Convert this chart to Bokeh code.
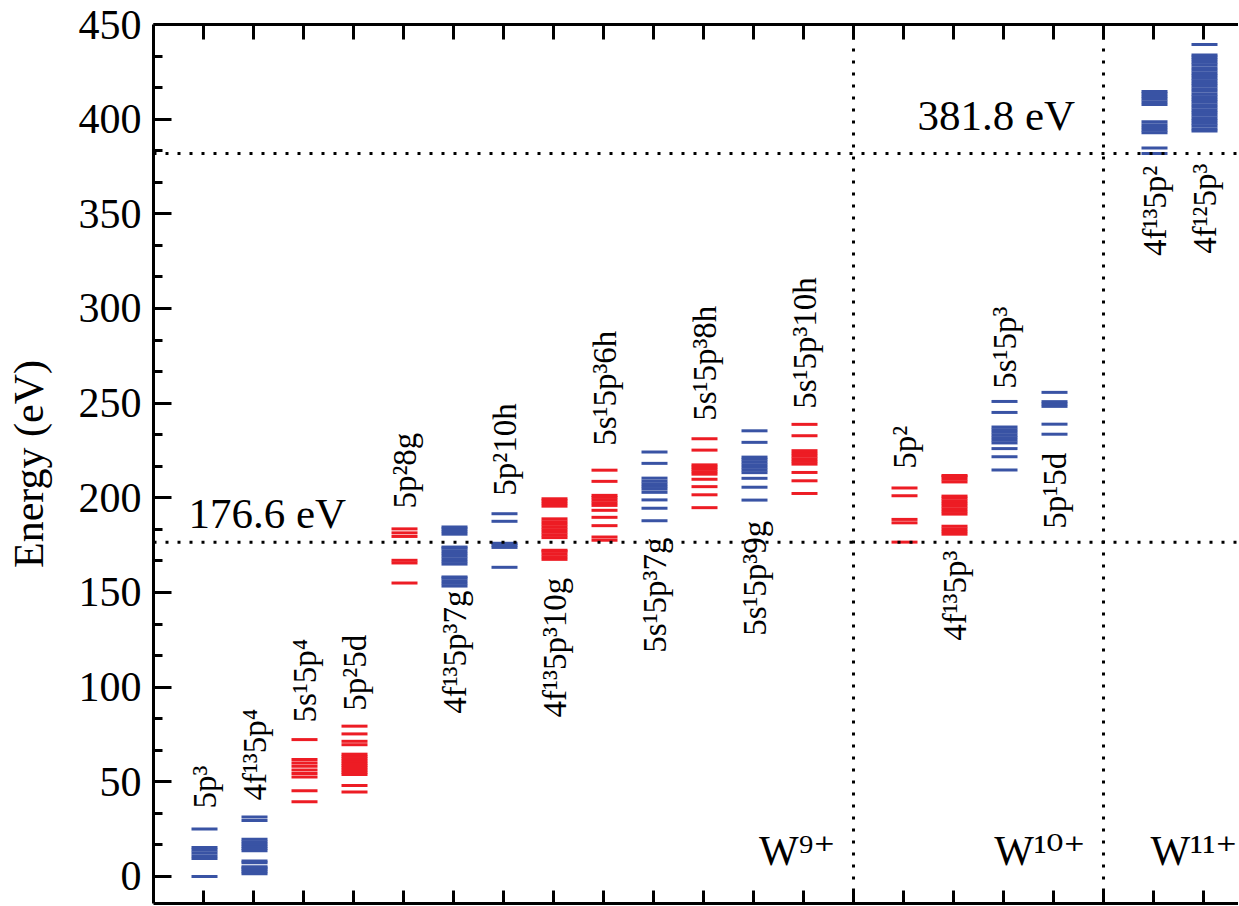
import math
from bokeh.plotting import figure
from bokeh.models import ColumnDataSource, Span, LinearAxis, FixedTicker, Range1d
from bokeh.core.properties import value
from bokeh.embed import file_html
from bokeh.resources import INLINE

# ---------------- data ----------------
config_labels = ["5p³", "4f¹³5p⁴", "5s¹5p⁴", "5p²5d", "5p²8g", "4f¹³5p³7g", "5p²10h",
                 "4f¹³5p³10g", "5s¹5p³6h", "5s¹5p³7g", "5s¹5p³8h", "5s¹5p³9g", "5s¹5p³10h",
                 "5p²", "4f¹³5p³", "5s¹5p³", "5p¹5d", "4f¹³5p²", "4f¹²5p³"]
config_slot = [1, 2, 3, 4, 5, 6, 7, 8, 9, 10, 11, 12, 13, 15, 16, 17, 18, 20, 21]
config_parity = ["odd", "odd", "even", "even", "even", "odd", "odd", "even", "even", "odd",
                 "even", "odd", "even", "even", "even", "odd", "odd", "odd", "odd"]
label_side = ["above", "above", "above", "above", "above", "below", "above", "below", "above",
              "below", "above", "below", "above", "above", "below", "above", "below", "below", "below"]
label_energy = [35.9, 40.1, 81.3, 87.6, 194.3, 151.0, 201.1, 157.8, 227.5, 179.0, 240.7,
                187.9, 247.0, 215.4, 172.1, 257.6, 223.8, 375.4, 376.5]

lv_5p3 = [0.0, 9.5, 11.0, 12.5, 14.0, 15.3, 25.1]
lv_4f13_5p4 = [1.5, 2.5, 3.5, 4.5, 5.2, 7.2, 8.2, 13.6, 14.8, 16.0, 17.2, 18.4, 19.7, 29.6, 31.4]
lv_5s1_5p4 = [39.5, 45.3, 52.6, 54.4, 56.3, 58.2, 60.0, 61.8, 72.3]
lv_5p2_5d = [44.6, 48.0, 53.8, 55.0, 56.2, 57.4, 58.6, 59.8, 61.0, 62.2, 63.4, 64.6, 69.6, 71.4, 75.3, 79.4]
lv_5p2_8g = [155.0, 165.6, 167.0, 179.6, 181.5, 183.6]
lv_4f13_5p3_7g = [153.4, 154.8, 156.2, 157.6, 158.2, 165.0, 166.4, 167.8, 169.2, 170.6, 172.0,
                  173.4, 174.0, 180.8, 182.2, 183.6, 184.6]
lv_5p2_10h = [163.3, 173.8, 175.0, 176.0, 187.6, 191.6]
lv_4f13_5p3_10g = [167.5, 168.9, 170.3, 171.7, 172.3, 179.0, 180.4, 181.8, 183.2, 184.6, 186.0,
                   187.4, 188.9, 195.6, 197.0, 198.4, 199.5]
lv_5s1_5p3_6h = [177.6, 179.3, 185.3, 189.7, 193.4, 196.0, 197.4, 198.8, 200.2, 201.3, 208.7, 214.6]
lv_5s1_5p3_7g = [187.9, 194.5, 198.9, 202.9, 204.6, 206.0, 207.4, 208.8, 210.4, 218.2, 224.2]
lv_5s1_5p3_8h = [194.8, 201.6, 205.9, 209.8, 212.5, 213.8, 215.1, 216.3, 217.4, 225.2, 231.2]
lv_5s1_5p3_9g = [198.8, 205.6, 210.3, 213.3, 214.7, 216.1, 217.5, 218.9, 220.3, 221.5, 229.3, 235.4]
lv_5s1_5p3_10h = [202.3, 209.0, 213.4, 217.8, 219.2, 220.6, 222.0, 223.4, 224.9, 232.8, 238.8]
lv_5p2_w10 = [176.6, 186.8, 188.6, 201.1, 205.2]
lv_4f13_5p3_w10 = [180.8, 182.2, 183.6, 185.0, 191.4, 192.8, 194.2, 195.6, 197.0, 198.4, 199.8,
                   200.9, 208.4, 209.8, 211.2, 211.8]
lv_5s1_5p3_w10 = [214.7, 221.7, 226.0, 229.0, 230.4, 231.8, 233.2, 234.6, 236.0, 237.4, 245.1, 250.9]
lv_5p1_5d = [233.6, 238.9, 248.3, 249.6, 250.8, 255.7]
lv_4f13_5p2 = [381.8, 384.8, 392.8, 394.2, 395.6, 397.0, 398.6, 407.8, 409.2, 410.6, 412.0, 413.4, 414.6]
lv_4f12_5p3 = [393.7, 395.0, 396.5, 397.8, 399.3, 400.6, 402.1, 403.5, 404.8, 406.3, 407.6, 409.1,
               410.4, 411.9, 413.2, 414.7, 416.0, 417.5, 418.8, 420.3, 421.6, 423.1, 424.4, 425.9,
               427.2, 428.7, 430.0, 431.5, 432.8, 433.9, 439.5]

all_levels = [lv_5p3, lv_4f13_5p4, lv_5s1_5p4, lv_5p2_5d, lv_5p2_8g, lv_4f13_5p3_7g, lv_5p2_10h,
              lv_4f13_5p3_10g, lv_5s1_5p3_6h, lv_5s1_5p3_7g, lv_5s1_5p3_8h, lv_5s1_5p3_9g,
              lv_5s1_5p3_10h, lv_5p2_w10, lv_4f13_5p3_w10, lv_5s1_5p3_w10, lv_5p1_5d,
              lv_4f13_5p2, lv_4f12_5p3]

ionization = [176.6, 381.8]
ionization_text = ["176.6 eV", "381.8 eV"]
ionization_text_x = [0.7, 15.28]
ionization_text_y = [191.7, 401.8]
ion_stage_boundaries = [14, 19]
ion_stage_labels = ["W⁹⁺", "W¹⁰⁺", "W¹¹⁺"]
ion_stage_label_x = [13.64, 18.64, 21.68]
ion_stage_label_y = [13.4, 13.4, 13.4]

y_major = [0, 50, 100, 150, 200, 250, 300, 350, 400, 450]

# ---------------- styles ----------------
BLUE = "#3953A4"
RED = "#ED1C24"
SERIF = "Liberation Serif, DejaVu Serif"
HALF = 0.26

x0, x1, ys, cols = [], [], [], []
for slot, par, lv in zip(config_slot, config_parity, all_levels):
    for e in lv:
        x0.append(slot - HALF + 0.02)
        x1.append(slot + HALF + 0.02)
        ys.append(e)
        cols.append(BLUE if par == "odd" else RED)
seg_src = ColumnDataSource(dict(x0=x0, x1=x1, y=ys, c=cols))

p = figure(frame_width=1085, frame_height=879,
           x_range=Range1d(0, 21.7), y_range=Range1d(-14.27, 450),
           output_backend="svg", toolbar_location=None,
           min_border_left=153, min_border_top=24, min_border_right=0, min_border_bottom=2)
p.outline_line_color = None
p.xgrid.visible = False
p.ygrid.visible = False
p.background_fill_color = "white"
p.border_fill_color = "white"

# axes
minor = [k * 50.0 / 3.0 for k in range(0, 28) if k % 3 != 0]
p.yaxis.ticker = FixedTicker(ticks=y_major, minor_ticks=minor)
p.yaxis.axis_line_width = 3
p.yaxis.major_tick_line_width = 3
p.yaxis.minor_tick_line_width = 3
p.yaxis.major_tick_in = 18
p.yaxis.major_tick_out = 0
p.yaxis.minor_tick_in = 9
p.yaxis.minor_tick_out = 0
p.yaxis.major_label_text_font = SERIF
p.yaxis.major_label_text_font_size = "42px"
p.yaxis.major_label_text_color = "black"
p.yaxis.major_label_standoff = 12
p.yaxis.axis_label = "Energy (eV)"
p.yaxis.axis_label_text_font = SERIF
p.yaxis.axis_label_text_font_size = "42px"
p.yaxis.axis_label_text_font_style = "normal"
p.yaxis.axis_label_text_color = "black"
p.yaxis.axis_label_standoff = 24

xt = FixedTicker(ticks=list(range(1, 22)), minor_ticks=[])
empty = {i: "" for i in range(1, 22)}
p.xaxis.ticker = xt
p.xaxis.major_label_overrides = empty
p.xaxis.major_label_text_font_size = "0px"
p.xaxis.axis_line_width = 3
p.xaxis.major_tick_line_width = 3
p.xaxis.major_tick_in = 13
p.xaxis.major_tick_out = 0
p.xaxis.minor_tick_line_color = None

top = LinearAxis(ticker=FixedTicker(ticks=list(range(1, 22)), minor_ticks=[]),
                 major_label_overrides=empty, major_label_text_font_size="0px",
                 axis_line_width=3, major_tick_line_width=3, major_tick_in=15,
                 major_tick_out=0, minor_tick_line_color=None)
p.add_layout(top, "above")

# dotted guide lines
for loc in ionization:
    p.add_layout(Span(location=loc, dimension="width", line_color="black",
                      line_width=3, line_dash="3 9"))
for loc in ion_stage_boundaries:
    p.add_layout(Span(location=loc, dimension="height", line_color="black",
                      line_width=3, line_dash="3 9"))

# energy levels
p.segment(x0="x0", x1="x1", y0="y", y1="y", line_color="c", line_width=3, source=seg_src)

# configuration labels
up = dict(x=[], y=[], t=[])
dn = dict(x=[], y=[], t=[])
for slot, side, ly, lab in zip(config_slot, label_side, label_energy, config_labels):
    d = up if side == "above" else dn
    d["x"].append(slot)
    d["y"].append(ly)
    d["t"].append(lab)
p.text(x="x", y="y", text="t", angle=math.pi / 2, text_align="left",
       text_baseline="alphabetic", x_offset=1, text_font=value(SERIF),
       text_font_size=value("33px"), text_color="black", source=ColumnDataSource(up))
p.text(x="x", y="y", text="t", angle=math.pi / 2, text_align="right",
       text_baseline="alphabetic", x_offset=1, text_font=value(SERIF),
       text_font_size=value("33px"), text_color="black", source=ColumnDataSource(dn))

# ionization energy texts
p.text(x=ionization_text_x, y=ionization_text_y, text=ionization_text,
       text_font=value(SERIF), text_font_size=value("43px"), text_color="black",
       text_align="left", text_baseline="alphabetic")

# ion stage labels
p.text(x=ion_stage_label_x, y=ion_stage_label_y, text=ion_stage_labels,
       text_font=value(SERIF), text_font_size=value("42px"), text_color="black",
       text_align="right", text_baseline="alphabetic")

open("out.html", "w").write(file_html(p, INLINE))
